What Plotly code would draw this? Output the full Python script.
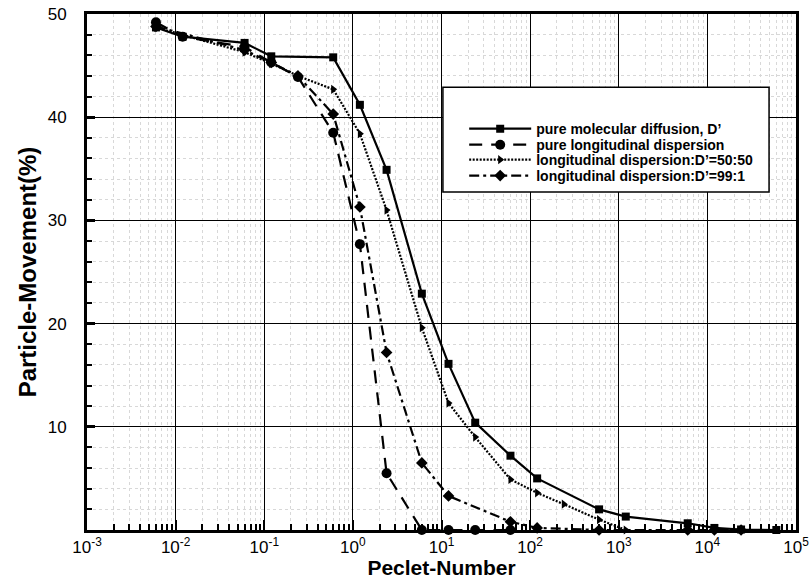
import plotly.graph_objects as go

# ---- data ----
pe_diff = [0.006, 0.012, 0.06, 0.12, 0.6, 1.2, 2.4, 6, 12, 24, 60, 120, 600, 1200, 6000, 12000, 24000, 60000]
mv_diff = [48.7, 47.8, 47.2, 45.9, 45.8, 41.2, 34.9, 22.9, 16.1, 10.4, 7.2, 5.0, 2.0, 1.3, 0.65, 0.2, 0.05, 0.0]

pe_long = [0.006, 0.012, 0.06, 0.12, 0.24, 0.6, 1.2, 2.4, 6, 12, 24, 60]
mv_long = [49.2, 47.8, 46.8, 45.3, 43.9, 38.5, 27.7, 5.5, 0.0, 0.0, 0.0, 0.0]

pe_5050 = [0.006, 0.06, 0.12, 0.24, 0.6, 1.2, 2.4, 6, 12, 24, 60, 120, 240, 600, 1200]
mv_5050 = [48.7, 46.3, 45.2, 44.0, 42.7, 38.4, 31.0, 19.6, 12.3, 9.0, 4.9, 3.6, 2.5, 1.0, 0.0]

pe_991 = [0.006, 0.06, 0.12, 0.24, 0.6, 1.2, 2.4, 6, 12, 60, 120, 600, 6000, 12000, 24000]
mv_991 = [48.8, 46.5, 45.3, 44.0, 40.3, 31.3, 17.2, 6.5, 3.3, 0.8, 0.2, 0.0, 0.0, 0.0, 0.0]

names = ["pure molecular diffusion, D\u2019",
         "pure longitudinal dispersion",
         "longitudinal dispersion:D\u2019=50:50",
         "longitudinal dispersion:D\u2019=99:1"]

x_tickvals = [1e-3, 1e-2, 1e-1, 1e0, 1e1, 1e2, 1e3, 1e4, 1e5]
x_ticktext = ["10<sup>-3</sup>", "10<sup>-2</sup>", "10<sup>-1</sup>", "10<sup>0</sup>",
              "10<sup>1</sup>", "10<sup>2</sup>", "10<sup>3</sup>", "10<sup>4</sup>", "10<sup>5</sup>"]
y_tickvals = [10, 20, 30, 40, 50]

fig = go.Figure()

fig.add_trace(go.Scatter(x=pe_diff, y=mv_diff, name=names[0], mode="lines+markers",
                         line=dict(color="black", width=2.2, dash="solid"),
                         marker=dict(symbol="square", size=8, color="black"),
                         cliponaxis=False, legend="legend"))
fig.add_trace(go.Scatter(x=pe_long, y=mv_long, name=names[1], mode="lines+markers",
                         line=dict(color="black", width=2.2, dash="13px,9px"),
                         marker=dict(symbol="circle", size=10, color="black"),
                         cliponaxis=False, legend="legend2"))
fig.add_trace(go.Scatter(x=pe_5050, y=mv_5050, name=names[2], mode="lines+markers",
                         line=dict(color="black", width=2.2, dash="2px,1.5px"),
                         marker=dict(symbol="triangle-right", size=8, color="black"),
                         cliponaxis=False, legend="legend3"))
fig.add_trace(go.Scatter(x=pe_991, y=mv_991, name=names[3], mode="lines+markers",
                         line=dict(color="black", width=2.2, dash="10px,4px,3px,4px"),
                         marker=dict(symbol="diamond", size=9, color="black"),
                         cliponaxis=False, legend="legend4"))

# legend box
fig.add_shape(type="rect", xref="paper", yref="paper",
              x0=0.502, x1=0.962, y0=0.655, y1=0.858,
              line=dict(color="black", width=1.5), fillcolor="white", layer="above")

def leg(y):
    return dict(x=0.532, y=y, xanchor="left", yanchor="middle",
                bgcolor="rgba(0,0,0,0)", borderwidth=0,
                font=dict(size=14, weight="bold", color="black"),
                itemwidth=62)

fig.update_layout(
    width=811, height=579,
    margin=dict(l=87, r=15, t=14, b=49),
    paper_bgcolor="white", plot_bgcolor="white",
    font=dict(family="Liberation Sans, Arial, sans-serif", color="black"),
    showlegend=True,
    legend=leg(0.777), legend2=leg(0.746), legend3=leg(0.717), legend4=leg(0.686),
    xaxis=dict(type="log", range=[-3, 5], automargin=False,
               tickvals=x_tickvals, ticktext=x_ticktext,
               tickfont=dict(size=17),
               ticks="inside", ticklen=10, tickwidth=2, tickcolor="black",
               showline=True, linewidth=3, linecolor="black", mirror=True,
               showgrid=True, gridcolor="black", gridwidth=1,
               zeroline=False,
               minor=dict(ticks="inside", ticklen=6, tickwidth=1.5, tickcolor="black",
                          dtick="D1", showgrid=True, gridcolor="#d8d8d8",
                          griddash="dot", gridwidth=1),
               title=dict(text="<b>Peclet-Number</b>", font=dict(size=21), standoff=3)),
    yaxis=dict(range=[0, 50], tickvals=y_tickvals, automargin=False,
               tickfont=dict(size=17), ticklabelstandoff=14,
               ticks="inside", ticklen=8, tickwidth=3, tickcolor="black",
               showline=True, linewidth=3, linecolor="black", mirror=True,
               showgrid=True, gridcolor="black", gridwidth=1,
               zeroline=False,
               minor=dict(ticks="inside", ticklen=5, tickwidth=1.5, tickcolor="black",
                          dtick=2, showgrid=True, gridcolor="#d8d8d8",
                          griddash="dot", gridwidth=1),
               title=dict(text="<b>Particle-Movement(%)</b>", font=dict(size=24), standoff=5)),
)

fig.write_html("out.html", config={"displayModeBar": False},
               post_script="document.body.style.margin='0px';")
